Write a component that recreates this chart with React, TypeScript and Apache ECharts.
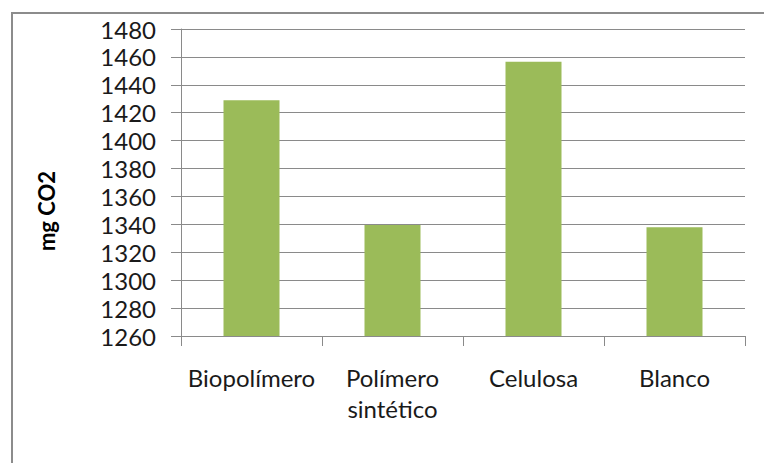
import React, { useEffect, useRef } from "react";
import * as echarts from "echarts";

const categories = ["Biopolímero", "Polímero\nsintético", "Celulosa", "Blanco"];
const values = [1429, 1339.5, 1456.5, 1338];
const yMin = 1260;
const yMax = 1480;
const yStep = 20;
const yTitle = "mg CO2";

export default function App() {
  const ref = useRef<HTMLDivElement>(null);
  useEffect(() => {
    if (!ref.current) return;
    const chart = echarts.init(ref.current, null, { renderer: "svg" });
    const font = "Lato, 'Noto Sans', sans-serif";
    chart.setOption({
      animation: false,
      backgroundColor: "#ffffff",
      grid: { left: 181, right: 19, top: 29, bottom: 127, containLabel: false },
      xAxis: {
        type: "category",
        data: categories,
        axisLine: { lineStyle: { color: "#8a8a8a", width: 1 } },
        axisTick: { show: true, length: 10, alignWithLabel: false, lineStyle: { color: "#8a8a8a" } },
        axisLabel: {
          margin: 26,
          fontFamily: font,
          fontSize: 24,
          lineHeight: 31,
          color: "#1a1a1a",
          interval: 0,
        },
        splitLine: { show: false },
      },
      yAxis: {
        type: "value",
        min: yMin,
        max: yMax,
        interval: yStep,
        axisLine: { show: true, lineStyle: { color: "#8a8a8a", width: 1 } },
        axisTick: { show: true, length: 10, lineStyle: { color: "#8a8a8a" } },
        axisLabel: {
          margin: 25,
          fontFamily: font,
          fontSize: 24,
          color: "#1a1a1a",
          formatter: (v: number) => String(v),
        },
        splitLine: { show: true, lineStyle: { color: "#8a8a8a", width: 1 } },
      },
      graphic: [
        {
          type: "rect",
          shape: { x: 12, y: 13, width: 800, height: 500 },
          style: { fill: "none", stroke: "#8c8c8c", lineWidth: 2 },
          silent: true,
          z: 0,
        },
        {
          type: "text",
          x: 46,
          y: 211,
          rotation: Math.PI / 2,
          style: {
            text: yTitle,
            fontFamily: font,
            fontSize: 22,
            fontWeight: "bold",
            fill: "#000000",
            align: "center",
            verticalAlign: "middle",
          },
          z: 10,
        },
      ],
      series: [
        {
          type: "bar",
          data: values,
          barWidth: 56,
          itemStyle: { color: "#9BBB59" },
        },
      ],
    });
    return () => chart.dispose();
  }, []);
  return (
    <div
      ref={ref}
      style={{ position: "fixed", left: 0, top: 0, width: 764, height: 463 }}
    />
  );
}
